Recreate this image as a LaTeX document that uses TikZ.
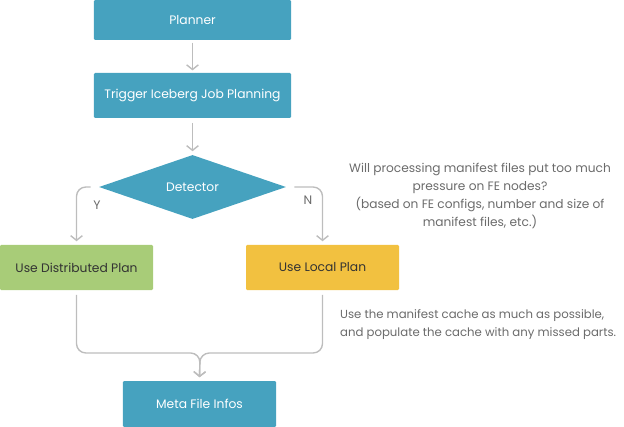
\documentclass[tikz,border=0pt]{standalone}
\usepackage{fontspec}
\setmainfont{Poppins}
\usetikzlibrary{shapes.geometric,arrows.meta}
\definecolor{boxblue}{HTML}{46A2BF}
\definecolor{boxgreen}{HTML}{A8CC78}
\definecolor{boxyellow}{HTML}{F2C140}
\definecolor{linegray}{HTML}{BDBDBD}
\definecolor{notegray}{HTML}{6B6B6B}
\tikzset{
	stepbox/.style={rectangle, rounded corners=1pt, fill=boxblue, text=white, minimum width=5.91cm, minimum height=1.35cm},
	planbox/.style={rectangle, rounded corners=1pt, text=black!80, minimum width=4.59cm, minimum height=1.35cm},
	flow/.style={draw=linegray, line width=1.2pt, rounded corners=8pt, -{Straight Barb[length=4pt,width=10pt]}},
	note/.style={text=notegray, font=\fontsize{10.4}{15.3}\selectfont}
}
\begin{document}
\begin{tikzpicture}[x=0.03cm, y=-0.03cm, font=\fontsize{10.5}{12}\selectfont]
		\useasboundingbox (0,0) rectangle (624,427);

		\node[stepbox, minimum height=1.2cm] (planner) at (192.5,20) {Planner};
		\node[stepbox] (trigger) at (192.5,95.5) {Trigger Iceberg Job Planning};
		\node[diamond, fill=boxblue, text=white, minimum width=5.61cm, minimum height=1.92cm, inner sep=0pt] (detector) at (192.5,187) {Detector};
		\node[planbox, fill=boxgreen] (distplan) at (76.5,267.5) {Use Distributed Plan};
		\node[planbox, fill=boxyellow] (localplan) at (322.5,267.5) {Use Local Plan};
		\node[stepbox, minimum width=4.59cm, minimum height=1.38cm] (meta) at (199.5,404) {Meta File Infos};

		\draw[flow, shorten <=2pt, shorten >=2pt] (planner) -- (trigger);
		\draw[flow, shorten <=4pt, shorten >=3pt] (trigger) -- (detector);

		\draw[flow, shorten >=3pt] ([xshift=-7pt]detector.west) -| (distplan.north);
		\draw[flow, shorten >=3pt] ([xshift=7pt]detector.east) -| (localplan.north);
		\node[text=notegray] (yes) at (97,205) {Y};
		\node[text=notegray] (no) at (308,200) {N};

		\coordinate (join) at (200,353);
		\draw[flow, shorten >=3pt] ([yshift=-4pt]distplan.south) |- (join) -- (meta.north);
		\draw[flow, shorten >=3pt] ([yshift=-4pt]localplan.south) |- (join) -- (meta.north);

		\node[note, align=center] (question) at (480,196) {Will processing manifest files put too much\\pressure on FE nodes?\\(based on FE configs, number and size of\\manifest files, etc.)};
		\node[note, font=\fontsize{10}{15.3}\selectfont, align=left, anchor=west] (cachenote) at (336,325) {Use the manifest cache as much as possible,\\and populate the cache with any missed parts.};
	\end{tikzpicture}
\end{document}
